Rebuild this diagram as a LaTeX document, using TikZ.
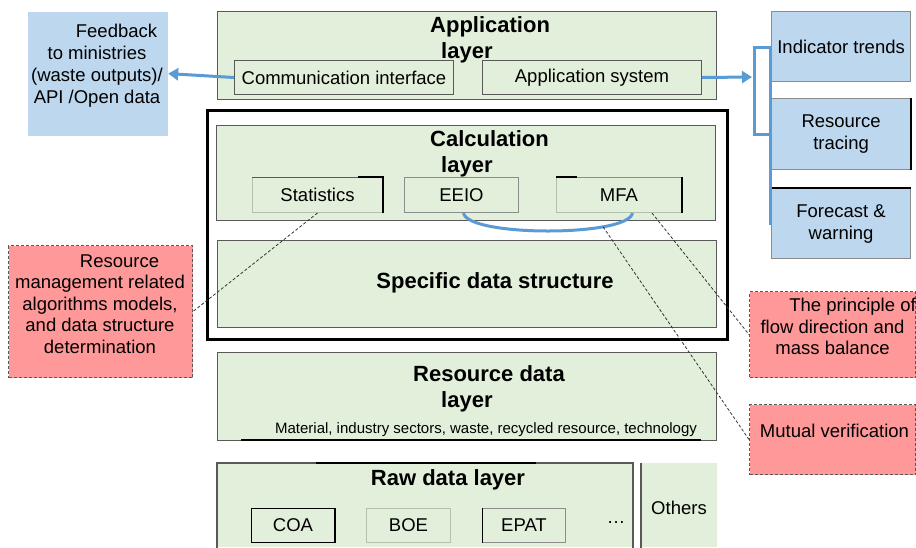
\documentclass[tikz,border=0pt]{standalone}
\usepackage{fontspec}
\setmainfont{Liberation Sans}
\usetikzlibrary{arrows.meta,calc}
\definecolor{gfill}{HTML}{E2EFDA}
\definecolor{gline}{HTML}{595959}
\definecolor{glight}{HTML}{B5BFAE}
\definecolor{bfill}{HTML}{BDD7EE}
\definecolor{bline}{HTML}{8C8C8C}
\definecolor{rfill}{HTML}{FF9999}
\definecolor{rline}{HTML}{595959}
\definecolor{arrowblue}{HTML}{5B9BD5}
\tikzset{
 reg/.style={font=\fontsize{18.5}{22}\selectfont},
 small/.style={font=\fontsize{15}{17}\selectfont},
 ttl/.style={font=\fontsize{22}{26}\selectfont\bfseries},
 layerbox/.style={draw=gline, fill=gfill, line width=1.2pt, inner sep=0pt, anchor=north west},
 subbox/.style={draw=gline, fill=gfill, line width=1pt, inner sep=0pt, anchor=north west, reg},
 bluebox/.style={draw=bline, fill=bfill, line width=1.2pt, inner sep=0pt, anchor=north west, reg, align=center},
 notebox/.style={draw=rline, fill=rfill, line width=1pt, dash pattern=on 3pt off 2pt, inner sep=0pt, anchor=north west},
 txt/.style={inner sep=0pt, reg, align=center},
 flow/.style={draw=arrowblue, line width=3pt, -{Triangle[length=10pt,width=12pt]}},
 bluestroke/.style={draw=arrowblue, line width=3pt},
 note/.style={draw=black!80, line width=0.8pt, dash pattern=on 3pt off 2pt},
 dark/.style={draw=black, line width=1.6pt},
}
\begin{document}
\begin{tikzpicture}[x=1pt,y=-1pt]
\fill[white] (0,0) rectangle (916,547);
\useasboundingbox (0,0) rectangle (916,547);

% Feedback box
\node[bluebox, draw=none, minimum width=140, minimum height=124] (fb) at (27,11) {};
\node[txt] (fbt) at (97,66) {\hspace*{39pt}Feedback\\to ministries\\(waste outputs)/\\API /Open data};

% Application layer
\node[layerbox, minimum width=499, minimum height=88] (app) at (217,11) {};
\node[ttl, align=left, anchor=base west, inner sep=0pt] (appt) at (430,58) {Application\\\hspace*{11pt}layer};
\node[subbox, minimum width=219, minimum height=34] (comm) at (234,60) {Communication interface};
\node[subbox, minimum width=219, minimum height=34] (appsys) at (482,60) {Application system};

% Right boxes
\node[bluebox, minimum width=139, minimum height=70] (it1) at (771,11) {Indicator trends};
\node[bluebox, minimum width=139, minimum height=71] (it2) at (771,98) {Resource\\tracing};
\node[bluebox, minimum width=139, minimum height=70] (it3) at (771,188) {Forecast \&\\warning};
\draw[dark] (it2.north east) -- (it2.south east);
\draw[dark] (it3.north west) -- (it3.north east);

% Arrows
\coordinate (brk) at (752,77);
\draw[flow] (comm.west) -- (fb.east);
\draw[flow] (appsys.east) -- (brk);
\coordinate (bra) at ($(it1.west)+(-17,1)$);
\coordinate (brb) at ($(it2.west)+(-1,0.5)$);
\draw[bluestroke] (bra) rectangle (brb);
\draw[bluestroke] ($(it1.west)+(-1,1)$) -- ($(it3.west)+(-1,1)$);

% Calculation outer box
\node[draw=black, fill=white, line width=2.5pt, inner sep=0pt, anchor=north west, minimum width=520, minimum height=229] (outer) at (206,109) {};
\node[layerbox, minimum width=499, minimum height=95] (calc) at (216,125) {};
\node[ttl, align=left, anchor=base west, inner sep=0pt] (calct) at (430,172.5) {Calculation\\\hspace*{11pt}layer};
\node[subbox, draw=glight, minimum width=130, minimum height=35] (stats) at (252,177) {Statistics};
\draw[gline, line width=0.8pt] (stats.north west) -- (stats.north east);
\draw[dark] ($(stats.north east)+(-25,0)$) -- (stats.north east) -- (stats.south east);
\node[subbox, draw=bline, minimum width=114, minimum height=35] (eeio) at (404,177) {EEIO};
\node[subbox, draw=glight, minimum width=125, minimum height=35] (mfa) at (556,177) {MFA};
\draw[bline, line width=0.8pt] (mfa.north west) -- (mfa.north east);
\draw[dark] (mfa.north west) -- ($(mfa.north west)+(21,0)$);
\draw[dark] (mfa.north east) -- (mfa.south east);

% Specific data structure
\node[layerbox, minimum width=499, minimum height=87] (spec) at (217,240) {};
\node[ttl, anchor=base, inner sep=0pt] (spect) at (495,288) {Specific data structure};

% Resource data layer
\node[layerbox, minimum width=499, minimum height=88] (res) at (217,352) {};
\draw[dark] (241,440) -- (701,440);
\node[ttl, align=left, anchor=base west, inner sep=0pt] (rest) at (413,407) {Resource data\\\hspace*{28pt}layer};
\node[small, anchor=base, inner sep=0pt] (mat) at (486,433) {Material, industry sectors, waste, recycled resource, technology};

% Raw data layer
\fill[gfill] (217,463) rectangle (633,547);
\draw[gline, line width=1.2pt] (217,548) -- (217,463) -- (633,463) -- (633,548);
\draw[dark] (316,463) -- (536,463);
\node[ttl, anchor=base, inner sep=0pt] (rawt) at (448,485) {Raw data layer};
\node[subbox, draw=black, minimum width=83, minimum height=34] (coa) at (251,508) {COA};
\draw[dark] (coa.north east) -- (coa.south east);
\node[subbox, draw=glight, minimum width=84, minimum height=34] (boe) at (366,508) {BOE};
\node[subbox, draw=bline, minimum width=83, minimum height=34] (epat) at (482,508) {EPAT};
\draw[black, line width=1pt] (epat.north west) -- (epat.south west);
\node[txt] (dots) at (616,523) {…};

% Others
\fill[gfill] (641,463) rectangle (717,547);
\draw[gline, line width=1.2pt] (641,463) -- (641,548);
\node[txt] (oth) at (679,508) {Others};

% Notes
\node[notebox, minimum width=184, minimum height=132] (rm) at (8,245) {};
\node[txt, font=\fontsize{18.5}{21.5}\selectfont] (rmt) at (100,304) {\hspace*{39pt}Resource\\management related\\algorithms models,\\and data structure\\determination};
\node[notebox, minimum width=166, minimum height=86] (pr) at (749,291) {};
\node[txt, font=\fontsize{18.5}{21.5}\selectfont] (prt) at (832.5,326.5) {\hspace*{40pt}The principle of\\flow direction and\\mass balance};
\node[notebox, minimum width=166, minimum height=70] (mv) at (749,404) {};
\node[txt] (mvt) at (834.5,431) {Mutual verification};

% Blue arc
\draw[bluestroke] ($(eeio.south)+(2,0)$) .. controls +(4,24) and +(-4,24) .. ($(mfa.south)+(13.5,0)$) coordinate[pos=0.74] (arcpt);

% Dashed connectors
\draw[note] (stats.south) -- (rm.east);
\draw[note] ($(mfa.south)+(33,0)$) -- (pr.west);
\draw[note] (arcpt) -- (mv.west);
\end{tikzpicture}
\end{document}
